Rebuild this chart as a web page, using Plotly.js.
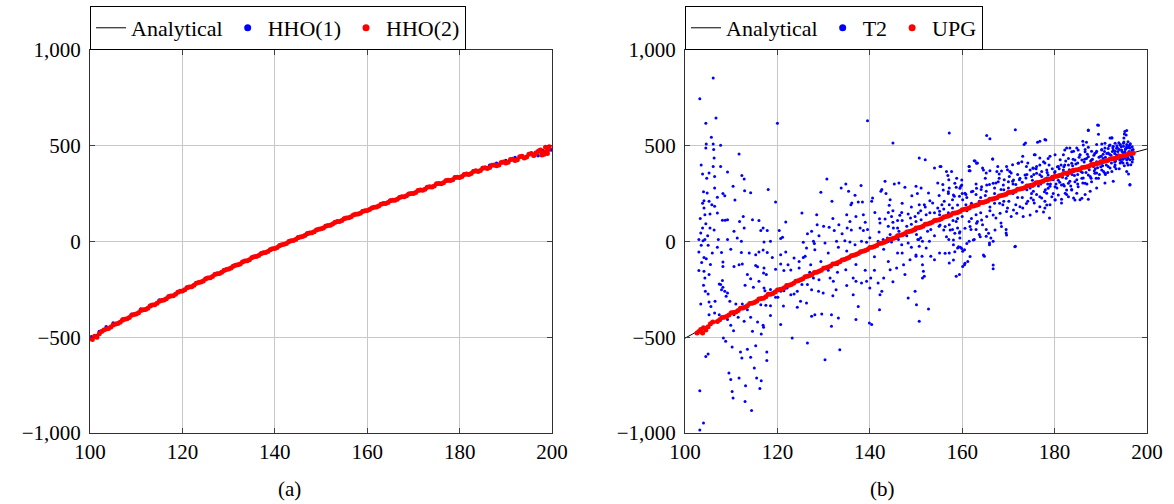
<!DOCTYPE html>
<html>
<head>
<meta charset="utf-8">
<script src="https://cdn.plot.ly/plotly-3.0.1.min.js"></script>
<style>html,body{margin:0;padding:0;background:#fff;}#chart{width:1174px;height:504px;}</style>
</head>
<body>
<div id="chart"></div>
<script>
// ---------- Analytical curve ----------
const anX = [100,105,110,115,120,125,130,135,140,145,150,155,160,165,170,175,180,185,190,195,200];
const anY = [-505,-439,-376,-315,-256,-198,-142,-87,-34,18,68,117,164,210,254,297,338,378,415,450,483];

// ---------- Panel (a): HHO(1) ----------
const hho1X = [100.3,102,103.5,105,107,109,111,113,115,117,119,121,123,125,127,129,131,133,135,137,139,141,143,145,147,149,151,153,155,157,159,161,163,165,167,169,171,173,175,177,179,181,183,185,186.5,188,190,192,193.5,195,196.5,198,199.5,199.8,197];
const hho1Y = [-498,-470,-445,-425,-405,-380,-352,-333,-305,-284,-262,-238,-215,-192,-170,-147,-126,-104,-82,-60,-40,-18,3,24,44,63,83,103,122,141,160,178,197,215,233,250,268,286,303,320,337,353,370,387,398,408,423,438,447,457,465,475,482,478,448];

// ---------- Panel (a): HHO(2) ----------
const hho2X = [100,100.5,101,101.5,102,102.5,
103,104,105,106,107,108,109,110,111,112,
113,114,115,116,117,118,119,120,121,122,
123,124,125,126,127,128,129,130,131,132,
133,134,135,136,137,138,139,140,141,142,
143,144,145,146,147,148,149,150,151,152,
153,154,155,156,157,158,159,160,161,162,
163,164,165,166,167,168,169,170,171,172,
173,174,175,176,177,178,179,180,181,182,
183,184,185,186,187,188,189,190,191,192,
193,194,195,196,197,198,199,
196.5,197.5,197.8,198.3,198.6,198.9,199.0,199.2,199.4,
103.5,104.5,105.5,106.5,107.5,108.5,109.5,110.5,111.5,112.5,
113.5,114.5,115.5,116.5,117.5,118.5,119.5,120.5,121.5,122.5,
123.5,124.5,125.5,126.5,127.5,128.5,129.5,130.5,131.5,132.5,
133.5,134.5,135.5,136.5,137.5,138.5,139.5,140.5,141.5,142.5,
143.5,144.5,145.5,146.5,147.5,148.5,149.5,150.5,151.5,152.5,
153.5,154.5,155.5,156.5,157.5,158.5,159.5,160.5,161.5,162.5,
163.5,164.5,165.5,166.5,167.5,168.5,169.5,170.5,171.5,172.5,
173.5,174.5,175.5,176.5,177.5,178.5,179.5,180.5,181.5,182.5,
183.5,184.5,185.5,186.5,187.5,188.5,189.5,190.5,191.5,192.5,
193.5,194.5,195.5,196.2,197.2,198.5];
const hho2Y = [-508,-512,-495,-500,-482,-470,
-462,-455,-436,-428,-411,-404,-385,-379,-361,-355,
-337,-330,-312,-305,-289,-283,-265,-258,-241,-236,
-218,-212,-196,-189,-173,-167,-151,-144,-129,-122,
-107,-100,-85,-78,-64,-57,-43,-36,-22,-15,
-1,5,20,26,40,46,60,66,80,85,
99,105,119,124,138,143,157,162,175,180,
194,198,213,216,230,234,248,251,266,268,
283,285,301,302,317,318,334,334,350,350,
366,365,383,381,398,395,413,410,428,423,
443,436,456,449,470,462,488,
462,478,452,455,492,470,460,480,495,
-457,-447,-431,-422,-406,-397,-381,-372,-356,-348,
-332,-323,-308,-299,-284,-276,-260,-252,-237,-229,
-214,-206,-191,-183,-169,-161,-146,-139,-124,-117,
-102,-95,-80,-73,-59,-52,-38,-31,-17,-10,
4,11,24,31,44,51,64,71,84,91,
104,110,123,129,142,148,161,167,179,185,
198,203,216,221,234,239,251,256,269,273,
286,290,303,307,320,323,336,339,353,355,
369,371,385,386,400,400,415,414,430,427,
445,441,459,452,474,466];

// ---------- Panel (b): UPG ----------
const upgX = [102.6,103,103.4,103.8,104,104.5,105,105.5,106,
107,108,109,110,111,112,113,114,115,116,
117,118,119,120,121,122,123,124,125,126,
127,128,129,130,131,132,133,134,135,136,
137,138,139,140,141,142,143,144,145,146,
147,148,149,150,151,152,153,154,155,156,
157,158,159,160,161,162,163,164,165,166,
167,168,169,170,171,172,173,174,175,176,
177,178,179,180,181,182,183,184,185,186,
187,188,189,190,191,192,193,194,195,196,197,
107.5,108.5,109.5,110.5,111.5,112.5,113.5,114.5,115.5,116.5,
117.5,118.5,119.5,120.5,121.5,122.5,123.5,124.5,125.5,126.5,
127.5,128.5,129.5,130.5,131.5,132.5,133.5,134.5,135.5,136.5,
137.5,138.5,139.5,140.5,141.5,142.5,143.5,144.5,145.5,146.5,
147.5,148.5,149.5,150.5,151.5,152.5,153.5,154.5,155.5,156.5,
157.5,158.5,159.5,160.5,161.5,162.5,163.5,164.5,165.5,166.5,
167.5,168.5,169.5,170.5,171.5,172.5,173.5,174.5,175.5,176.5,
177.5,178.5,179.5,180.5,181.5,182.5,183.5,184.5,185.5,186.5,
187.5,188.5,189.5,190.5,191.5,192.5,193.5,194.5,195.5,196.5];
const upgY = [-478,-470,-460,-478,-450,-462,-445,-430,-420,
-418,-397,-392,-372,-368,-348,-344,-324,-319,-300,
-296,-276,-272,-253,-248,-230,-224,-207,-200,-184,
-178,-162,-156,-140,-133,-118,-111,-96,-89,-74,
-68,-53,-47,-32,-26,-11,-5,10,15,30,
35,50,55,70,75,90,95,109,114,128,
133,147,152,166,171,184,189,203,207,221,
225,238,243,256,260,273,277,290,294,307,
311,323,327,340,344,356,359,372,375,387,
390,402,405,417,420,431,434,445,448,458,461,
-409,-396,-384,-371,-360,-347,-336,-322,-312,-298,
-288,-275,-264,-251,-241,-228,-218,-205,-195,-182,
-172,-160,-150,-137,-128,-116,-106,-94,-84,-72,
-63,-51,-42,-30,-21,-9,0,12,20,32,
40,52,60,72,80,92,100,111,119,130,
138,149,157,168,175,186,193,204,212,222,
229,240,247,257,264,274,281,291,298,308,
314,324,331,341,347,357,363,373,379,388,
394,403,408,418,423,432,437,446,451,459];

// ---------- Panel (b): T2 ----------
const t2X = [
106.1,103.2,106.7,104.5,120.0,105.7,104.6,106.1,107.7,104.5,
106.2,111.7,106.3,106.1,107.7,109.2,103.8,105.2,106.4,112.3,
112.8,110.4,106.4,112.9,114.2,118.0,104.8,108.2,108.6,107.0,
110.8,104.1,105.2,105.8,119.6,104.1,106.4,107.0,105.4,104.3,
112.6,108.7,108.1,109.2,114.6,116.0,121.8,111.8,112.8,104.5,
103.8,105.4,103.4,103.0,110.6,116.4,116.9,117.8,120.4,121.1,
107.2,109.2,111.3,112.2,117.1,118.5,120.7,103.9,104.3,107.0,
107.9,109.9,112.2,113.9,115.3,116.0,116.9,117.8,118.9,120.7,
121.8,123.6,124.7,125.6,103.0,104.1,104.6,103.0,104.1,104.3,
105.2,104.0,108.2,108.2,110.6,111.7,112.4,115.3,115.7,117.1,
117.0,117.6,119.6,120.7,121.4,122.3,122.9,124.7,108.1,107.7,
108.2,108.6,107.9,107.4,109.2,113.5,114.2,113.0,114.8,116.0,
117.1,117.3,118.5,119.1,119.6,120.7,121.4,122.1,122.9,123.6,
124.3,105.0,105.2,105.6,106.5,103.4,108.9,109.7,111.0,112.4,
113.5,116.4,117.5,118.5,120.1,121.3,124.3,125.0,106.4,107.4,
105.2,109.2,110.6,111.5,112.8,114.2,115.7,116.9,116.5,117.0,
118.5,120.7,123.2,109.9,110.5,114.6,108.8,108.3,110.2,112.0,
113.5,115.3,117.7,112.3,114.2,117.7,104.5,105.0,109.5,111.7,
109.9,115.0,115.5,116.5,113.1,116.2,110.2,110.4,113.0,114.4,
103.2,104.0,103.2,103.5,103.3,104.0,103.6,104.4,103.8,104.9,
105.5,105.9,106.3,105.0,104.7,103.5,
139.5,145.0,150.7,130.7,129.4,134.8,133.8,138.1,135.4,136.8,
136.1,135.9,131.8,137.5,138.4,140.6,140.4,142.6,142.4,143.5,
144.4,144.2,143.3,145.3,146.3,147.6,149.1,150.0,150.3,125.3,
127.4,128.5,128.6,131.2,132.3,133.3,135.0,135.7,135.1,137.9,
138.6,139.5,138.6,141.1,142.1,142.2,143.3,144.0,144.7,146.0,
146.5,146.9,148.3,148.8,149.8,150.5,145.1,146.3,144.4,125.6,
127.8,126.3,128.1,130.3,132.8,133.2,134.6,135.7,136.8,138.2,
139.3,141.8,142.9,143.8,144.7,146.2,146.9,148.3,150.1,150.6,
126.0,127.2,129.4,130.3,127.8,125.3,126.5,127.4,128.9,129.9,
131.4,132.1,132.7,132.0,134.3,134.8,136.4,137.0,136.4,137.5,
138.2,139.3,140.2,140.0,141.8,142.6,142.2,144.0,144.4,145.8,
147.3,148.7,147.6,148.3,149.8,150.1,142.1,140.4,139.9,126.3,
128.1,127.4,129.6,131.7,131.7,137.0,133.2,126.5,130.3,133.5,
126.5,128,129,130,131,132,133,134,135,136,
137,138,139,140,141,142,143,144,145,146,
147,148,149,150,127,129,131,133,135,137,
139,141,143,145,147,149,
157.2,165.3,166.0,171.5,173.7,173.4,152.0,155.4,154.0,156.9,
157.1,154.7,155.8,157.2,158.7,159.7,161.5,161.5,162.6,163.3,
164.4,165.2,167.7,166.6,168.0,169.8,170.6,170.9,173.1,172.2,
174.2,175.6,175.3,151.1,152.7,153.0,151.8,153.6,150.7,154.7,
155.6,156.1,157.2,157.9,158.3,159.4,160.1,160.8,162.3,163.0,
164.1,165.2,165.9,167.0,167.3,168.4,169.1,170.2,170.9,171.6,
172.4,173.8,174.9,150.0,151.1,151.4,152.5,153.2,150.4,151.4,
152.9,150.7,152.2,150.0,151.3,153.2,155.1,154.0,151.4,151.6,
151.4,151.8,150.7,152.7,154.3,155.1,156.1,156.9,157.2,158.7,
159.0,157.9,157.1,158.1,159.4,159.5,157.2,159.0,159.6,160.1,
157.2,160.5,160.1,158.7,159.4,161.5,161.9,163.0,163.3,164.4,
165.2,161.5,162.6,163.7,165.2,165.9,166.2,160.5,161.2,164.8,
165.9,166.7,166.7,169.5,169.5,171.5,167.3,168.4,168.8,169.8,
170.6,171.6,173.1,174.2,174.9,175.6,152.2,155.1,157.9,160.8,
163.7,166.6,169.5,172.4,175.3,151,152,153,154,155,
156,157,158,159,160,161,162,163,164,165,
166,167,168,169,170,171,172,173,174,175,
189.5,187.3,195.6,195.1,192.0,192.4,186.1,190.2,189.1,177.9,
176.8,175.8,176.8,177.9,179.0,180.1,181.2,181.9,182.6,183.3,
184.1,184.8,185.5,186.6,187.3,188.0,189.1,190.2,190.9,191.6,
192.7,193.6,194.2,194.9,195.6,196.3,196.7,193.1,193.8,194.5,
195.2,196.0,193.4,194.9,196.3,195.7,196.5,196.0,196.3,174.7,
175.4,176.1,177.2,177.9,179.0,180.1,181.5,176.1,177.9,177.6,
178.9,182.6,184.1,183.7,185.5,186.6,187.7,189.1,190.9,192.7,
176.8,178.3,179.7,181.2,182.6,184.1,185.5,186.9,188.4,189.8,
191.3,192.7,194.2,195.6,179.0,180.5,181.9,183.3,184.8,186.2,
187.7,189.1,190.6,192.0,193.0,193.5,194.0,194.3,194.6,195.0,
195.3,195.5,195.8,196.1,196.4,196.6,196.8,197.0,193.2,194.8,
195.9,196.9,192.5,192.2,191.8,191.0,190.5,189.6,188.5,187.8,
186.5,185.0,184.0,183.0,182.0,181.0,180.0,179.5,178.5,178.0,
177.0,176.0,175.5,185,187,189,191,193,182.5,180.8,
183.8,186.0,188.8,190.0,194.0,
176.3,178.1,162.8,163.1,161.5,161.7,166.6,164.6,166.0,167.5,
168.5,169.6,170.3,172.1,172.9,173.9,174.7,175.4,176.1,176.8,
177.6,178.6,155.2,156.6,157.7,158.8,158.4,159.9,159.9,155.9,
157.0,158.1,159.5,160.6,162.0,163.1,164.2,165.3,166.7,167.8,
168.9,170.0,171.1,172.5,173.6,175.0,176.1,177.2,178.3,155.2,
156.3,157.4,158.4,159.5,160.6,161.7,163.1,164.2,165.3,166.7,
168.2,169.6,171.1,172.5,173.9,175.4,176.8,178.3,156.6,158.1,
159.2,161.0,162.4,163.9,165.7,167.1,168.5,169.6,171.8,173.2,
174.7,176.8,178.3,156.3,158.4,159.9,160.6,161.7,164.6,166.7,
171.4,158.1,189.3,189.5,187.3,186.9,186.2,192.4,195.2,195.5,
195.9,190.9,192.0,193.1,194.2,194.9,195.6,196.3,196.8,192.7,
193.4,194.5,195.2,195.9,196.7,193.4,194.9,195.9,196.8,188.7,
189.8,190.5,191.3,188.0,189.1,190.2,191.6,186.6,186.9,185.5,
184.4,183.7,182.2,183.0,180.8,181.9,180.1,179.4,178.6,177.9,
178.6,180.1,181.5,183.0,184.4,185.9,187.3,188.7,190.2,191.6,
193.1,194.5,179.4,180.8,182.3,183.7,185.1,186.6,188.0,189.5,
190.9,192.4,195.6,196.3,180.1,181.5,183.0,184.4,185.9,187.3,
182.6,184.8,182.2,183.7,185.1,186.6,188.0,189.5,190.2,191.6,
185.9,187.3,
180.3,180.6,181.1,181.4,181.7,182.1,182.4,182.8,183.2,183.5,
183.9,184.3,184.6,185.0,185.3,185.7,186.1,186.4,186.8,187.1,
187.5,187.9,188.2,188.6,189.0,189.3,189.7,190.1,190.4,190.8,
191.2,191.5,191.9,192.3,192.6,193.0,193.3,193.7,194.1,194.4,
194.8,195.1,195.4,195.8,196.1,196.5,196.8,197.0,193.9,195.0,
176.5,177.2,177.8,178.4,179.1,179.7,176.0,178.8,175.2,174.0,
173.0,172.0,171.0,170.1,169.0,168.1,167.0,166.0,165.0,164.0,
163.0,162.0,161.0,160.0,159.0,158.0,157.0,156.0,155.0,154.0,
153.0,152.0,151.0,150.0,149.0,148.0,147.0,146.0,145.0,144.0];
const t2Y = [
854,746,645,618,618,544,509,509,502,488,
480,457,436,392,391,363,352,358,340,344,
326,288,279,265,255,271,253,250,239,231,
217,213,210,192,206,175,184,149,144,140,
131,111,111,114,114,109,102,105,70,93,
70,70,44,10,53,57,70,57,57,22,
10,10,18,1,-3,1,15,4,10,-30,
-57,-41,-57,-60,-69,-55,-44,-57,-83,-69,
-55,-86,-104,-83,-55,-83,-90,-152,-156,-191,
-173,-229,-107,-130,-130,-121,-118,-125,-132,-138,
-164,-173,-145,-118,-152,-121,-149,-138,-204,-225,
-239,-260,-252,-222,-269,-173,-194,-229,-239,-208,
-243,-257,-251,-274,-291,-260,-257,-243,-278,-274,
-260,-274,-316,-339,-312,-326,-286,-312,-326,-326,
-356,-330,-333,-335,-291,-337,-344,-312,-373,-382,
-382,-408,-382,-396,-417,-396,-420,-438,-483,-448,
-386,-434,-504,-438,-466,-469,-521,-504,-551,-577,
-563,-544,-577,-608,-605,-622,-600,-587,-687,-713,
-721,-661,-713,-727,-753,-768,-783,-817,-835,-883,
-779,-948,-984,-20,120,260,-110,-260,200,30,
-120,-60,60,-20,330,400,
631,514,436,326,257,300,279,292,262,241,
201,192,210,206,206,227,210,271,262,250,
218,189,314,300,305,283,239,288,250,149,
53,140,88,74,57,88,140,105,70,70,
57,62,140,152,119,97,118,152,131,109,
137,152,144,123,131,149,70,53,36,-4,
1,-34,-43,-8,1,-30,4,-3,-17,1,
-4,1,10,18,-3,10,-17,-8,36,10,
-77,-121,-104,-138,-191,-225,-225,-252,-260,-269,
-191,-208,-252,-283,-95,-147,-191,-208,-278,-339,
-217,-208,-191,-243,-217,-260,-278,-104,-147,-138,
-121,-95,-173,-295,-260,-330,-356,-434,-426,-321,
-382,-391,-379,-382,-443,-408,-400,-530,-617,-565,
40,-10,30,80,-60,120,-120,40,-50,60,
130,-60,100,20,-80,50,-40,80,160,-60,
200,30,180,-70,-160,-200,-150,-160,-230,-120,
-150,-150,-190,-210,-60,-30,
566,554,537,584,514,506,427,392,384,344,
323,305,297,279,283,288,392,370,422,410,
384,358,392,431,352,375,358,401,445,410,
410,453,384,279,253,213,192,201,192,175,
192,210,192,218,236,236,218,245,262,245,
271,262,297,279,305,271,323,340,314,297,
323,332,297,105,114,79,53,62,10,1,
1,-25,-34,-77,-77,-77,-60,-95,-121,-156,
-191,-182,-417,-353,114,140,123,140,88,105,
70,62,10,-17,44,18,-60,-34,-30,-51,
-112,-121,-130,-182,-173,105,62,62,105,88,
62,1,10,36,27,-8,18,-43,-104,-77,
-17,1,-142,62,44,-25,123,97,192,175,
131,192,175,210,227,201,140,158,175,192,
210,218,245,271,288,20,180,100,30,240,
60,250,150,120,250,160,120,300,150,330,
180,200,330,210,280,250,350,230,350,250,
607,582,579,561,540,540,523,509,506,532,
523,453,436,410,445,453,427,453,488,488,
471,488,453,480,492,471,471,480,488,462,
497,488,506,497,506,488,471,471,453,445,
436,453,436,462,427,410,401,352,297,279,
262,245,227,210,192,218,201,158,175,154,
123,245,227,271,218,245,262,279,305,314,
349,332,323,349,358,366,375,392,392,410,
419,436,410,427,288,279,297,314,323,332,
340,358,366,384,460,500,480,430,470,520,
480,455,490,470,510,445,495,460,420,410,
400,430,470,450,500,440,455,440,450,420,
430,410,430,400,390,380,360,380,300,270,
300,310,350,300,300,330,350,390,330,320,
350,360,380,390,380,
518,530,420,408,391,370,431,373,370,365,
368,391,365,408,417,391,373,382,391,399,
417,434,391,365,365,330,304,321,295,269,
260,243,278,252,260,278,286,295,304,312,
295,312,321,330,347,339,356,365,373,86,
78,60,43,51,69,78,95,112,130,138,
147,156,165,182,199,217,234,252,25,8,
-27,-10,8,25,43,60,78,34,147,130,
138,182,191,-62,-53,-36,-114,-79,-71,-123,
-27,-97,608,560,579,518,504,542,574,556,
521,513,504,513,504,513,495,504,478,478,
487,478,469,460,460,452,443,434,440,460,
443,434,460,426,417,408,426,469,434,452,
426,408,399,434,391,373,365,339,347,321,
278,286,295,304,312,330,347,356,373,391,
399,417,234,243,252,269,286,304,312,330,
356,365,365,295,217,220,234,217,226,220,
269,252,478,469,478,391,399,408,478,486,
426,443,
300,390,310,400,335,290,420,345,375,290,
395,345,405,350,440,365,305,415,360,455,
375,330,430,370,465,385,350,445,395,470,
400,360,455,410,490,415,380,470,425,495,
430,395,485,440,500,450,415,480,515,540,
290,340,260,360,300,250,380,400,320,270,
310,230,300,210,270,200,250,160,240,230,
140,200,230,130,190,110,150,170,80,150,
150,90,160,60,90,80,110,70,100,0];

// ---------- Axis ticks ----------
const xTicks = [100,120,140,160,180,200];
const yTicks = [-1000,-500,0,500,1000];
const panelLabels = ['(a)','(b)'];

const FONT = '"Liberation Serif", "Times New Roman", serif';
const BLUE = '#0000ff', RED = '#ff0000';

const n = Math.min(t2X.length, t2Y.length);

const traces = [
  // panel a
  {x: anX, y: anY, mode:'lines', line:{color:'#000', width:1, shape:'spline'}, xaxis:'x', yaxis:'y', showlegend:false, hoverinfo:'skip'},
  {x: hho1X, y: hho1Y, mode:'markers', marker:{color:BLUE, size:3.5}, xaxis:'x', yaxis:'y', showlegend:false},
  {x: hho2X, y: hho2Y, mode:'markers', marker:{color:RED, size:5}, xaxis:'x', yaxis:'y', showlegend:false},
  // panel b
  {x: anX, y: anY, mode:'lines', line:{color:'#000', width:1, shape:'spline'}, xaxis:'x2', yaxis:'y2', showlegend:false, hoverinfo:'skip'},
  {x: t2X.slice(0,n), y: t2Y.slice(0,n), mode:'markers', marker:{color:BLUE, size:3}, xaxis:'x2', yaxis:'y2', showlegend:false},
  {x: upgX, y: upgY, mode:'markers', marker:{color:RED, size:5}, xaxis:'x2', yaxis:'y2', showlegend:false},
  // legend entries
  {x:[null], y:[null], name:'Analytical', mode:'lines', line:{color:'#000', width:1}, xaxis:'x', yaxis:'y', legend:'legend'},
  {x:[null], y:[null], name:'HHO(1)', mode:'markers', marker:{color:BLUE, size:7}, xaxis:'x', yaxis:'y', legend:'legend'},
  {x:[null], y:[null], name:'HHO(2)', mode:'markers', marker:{color:RED, size:7}, xaxis:'x', yaxis:'y', legend:'legend'},
  {x:[null], y:[null], name:'Analytical', mode:'lines', line:{color:'#000', width:1}, xaxis:'x2', yaxis:'y2', legend:'legend2'},
  {x:[null], y:[null], name:'T2', mode:'markers', marker:{color:BLUE, size:7}, xaxis:'x2', yaxis:'y2', legend:'legend2'},
  {x:[null], y:[null], name:'UPG', mode:'markers', marker:{color:RED, size:7}, xaxis:'x2', yaxis:'y2', legend:'legend2'}
];

const axCommon = {
  showgrid:true, gridcolor:'#c8c8c8', gridwidth:1, zeroline:false,
  showline:true, linecolor:'#303030', linewidth:1, mirror:'ticks',
  ticks:'inside', ticklen:5, tickcolor:'#404040', tickwidth:1,
  tickfont:{family:FONT, size:21, color:'#000'}, fixedrange:true
};
const xCommon = Object.assign({}, axCommon, {range:[100,200], tickmode:'array', tickvals:xTicks, ticktext:xTicks.map(String)});
const yCommon = Object.assign({}, axCommon, {range:[-1000,1000], tickmode:'array', tickvals:yTicks, tickformat:',', ticklabelstandoff:4});

const legCommon = {
  orientation:'h', xanchor:'left', yanchor:'bottom', y:0.9008,
  bgcolor:'#fff', bordercolor:'#000', borderwidth:1,
  font:{family:FONT, size:22, color:'#000'}, itemwidth:30, tracegroupgap:0
};

const layout = {
  width:1174, height:504,
  margin:{l:0, r:0, t:0, b:0},
  paper_bgcolor:'#fff', plot_bgcolor:'#fff',
  font:{family:FONT, size:21, color:'#000'},
  showlegend:true,
  xaxis: Object.assign({}, xCommon, {domain:[0.0767,0.4702], anchor:'y'}),
  yaxis: Object.assign({}, yCommon, {domain:[0.1409,0.9008], anchor:'x'}),
  xaxis2: Object.assign({}, xCommon, {domain:[0.5835,0.977], anchor:'y2'}),
  yaxis2: Object.assign({}, yCommon, {domain:[0.1409,0.9008], anchor:'x2'}),
  legend: Object.assign({}, legCommon, {x:0.0767}),
  legend2: Object.assign({}, legCommon, {x:0.5835}),
  annotations: [
    {text:panelLabels[0], xref:'paper', yref:'paper', x:0.2465, y:0.03, xanchor:'center', yanchor:'middle', showarrow:false, font:{family:FONT, size:21}},
    {text:panelLabels[1], xref:'paper', yref:'paper', x:0.752, y:0.03, xanchor:'center', yanchor:'middle', showarrow:false, font:{family:FONT, size:21}}
  ]
};

Plotly.newPlot('chart', traces, layout, {staticPlot:true, displayModeBar:false});
</script>
</body>
</html>
